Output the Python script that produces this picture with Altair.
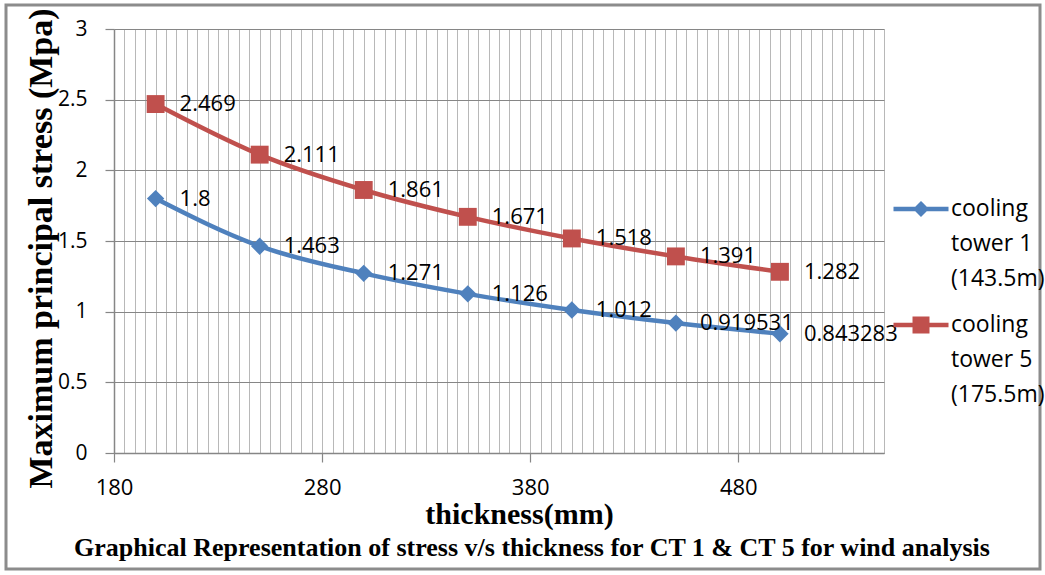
import altair as alt
import pandas as pd

# ---- data ----
thickness = [200, 250, 300, 350, 400, 450, 500]
ct1_stress = [1.8, 1.463, 1.271, 1.126, 1.012, 0.919531, 0.843283]
ct5_stress = [2.469, 2.111, 1.861, 1.671, 1.518, 1.391, 1.282]
ct1_labels = ["1.8", "1.463", "1.271", "1.126", "1.012", "0.919531", "0.843283"]
ct5_labels = ["2.469", "2.111", "1.861", "1.671", "1.518", "1.391", "1.282"]
series_names = ["cooling|tower 1|(143.5m)", "cooling|tower 5|(175.5m)"]
series_colors = ["#4F81BD", "#C0504D"]
x_label_values = [180, 280, 380, 480]
x_grid_values = list(range(180, 551, 5))
y_tick_values = [0, 0.5, 1, 1.5, 2, 2.5, 3]

rows = []
for t, v, lab in zip(thickness, ct1_stress, ct1_labels):
    rows.append({"thickness": t, "stress": v, "label": lab, "series": series_names[0]})
for t, v, lab in zip(thickness, ct5_stress, ct5_labels):
    rows.append({"thickness": t, "stress": v, "label": lab, "series": series_names[1]})
df = pd.DataFrame(rows)

major_test = "(datum.value - 180) % 100 == 0"

x_axis = alt.Axis(
    values=x_grid_values,
    grid=True, gridColor="#B8B8B8", gridWidth=1,
    labelExpr=f"{major_test} ? datum.label : ''",
    labelOverlap=False, labelFlush=False,
    tickOpacity={"condition": {"test": major_test, "value": 1}, "value": 0},
    tickSize=9, tickColor="#868686", tickWidth=1.2,
    domainColor="#868686", domainWidth=1.5,
    labelFont="Open Sans", labelFontSize=22, labelColor="black", labelPadding=15,
    title="thickness(mm)", titleFont="Liberation Serif", titleFontWeight="bold",
    titleFontSize=30, titleColor="black",
    titleX=405, titleY=70, titleAlign="center", titleBaseline="alphabetic",
)
y_axis = alt.Axis(
    values=y_tick_values, format="~g",
    grid=True, gridColor="#868686", gridWidth=1.2,
    tickSize=9, tickColor="#868686", tickWidth=1.2,
    domainColor="#868686", domainWidth=1.5,
    labelFont="Open Sans", labelFontSize=21, labelColor="black", labelPadding=18,
    title="Maximum principal stress (Mpa)", titleFont="Liberation Serif",
    titleFontWeight="bold", titleFontSize=34, titleColor="black",
    titleX=-73, titleY=219, titleAngle=270, titleAlign="center", titleBaseline="middle",
)

x_enc = alt.X("thickness:Q", scale=alt.Scale(domain=[180, 550], nice=False, zero=False), axis=x_axis)
y_enc = alt.Y("stress:Q", scale=alt.Scale(domain=[0, 3], nice=False), axis=y_axis)
color_scale = alt.Scale(domain=series_names, range=series_colors)

# legend symbols: a line with the series marker (marker drawn as nested outlines)
legend_paths = [
    "M-1,0H1M0,-0.175L0.175,0L0,0.175L-0.175,0ZM0,-0.058L0.058,0L0,0.058L-0.058,0Z",
    "M-1,0H1M-0.227,-0.227H0.227V0.227H-0.227ZM-0.136,-0.136H0.136V0.136H-0.136Z"
    "M-0.045,-0.045H0.045V0.045H-0.045Z",
]
leg = alt.Legend(
    title=None, orient="none", legendX=777, legendY=150, padding=0,
    labelExpr="split(datum.label, '|')", labelFont="Open Sans", labelFontSize=23,
    labelColor="black", labelLimit=0, labelOffset=0, rowPadding=4,
    symbolSize=3025, symbolStrokeWidth=4.5, symbolOpacity=1,
    symbolFillColor="transparent",
)
color_enc = alt.Color("series:N", scale=color_scale, legend=leg)

base = alt.Chart(df).encode(x=x_enc, y=y_enc)

legend_layer = base.mark_point(filled=False, size=3025, opacity=0, strokeWidth=4.5).encode(
    color=color_enc,
    shape=alt.Shape("series:N", scale=alt.Scale(domain=series_names, range=legend_paths), legend=leg),
)
lines = base.mark_line(strokeWidth=4.5, interpolate="monotone").encode(color=color_enc)
diamonds = base.transform_filter(alt.datum.series == series_names[0]).mark_point(
    shape="diamond", filled=True, size=300, opacity=1).encode(color=color_enc)
squares = base.transform_filter(alt.datum.series == series_names[1]).mark_point(
    shape="square", filled=True, size=320, opacity=1).encode(color=color_enc)
labels = base.mark_text(align="left", baseline="middle", dx=24, font="Open Sans",
                        fontSize=22, color="black").encode(text="label:N")

frame = alt.Chart(alt.Data(values=[{}])).mark_rect(
    fill=None, stroke="#8C8C8C", strokeWidth=3
).encode(x=alt.value(-108), x2=alt.value(926), y=alt.value(-24), y2=alt.value(540))

chart = alt.layer(legend_layer, lines, diamonds, squares, labels, frame).properties(
    width=770, height=424,
    padding={"left": 114, "top": 29, "right": 161, "bottom": 122},
    autosize=alt.AutoSizeParams(type="none"),
    title=alt.TitleParams(
        "Graphical Representation  of stress v/s thickness for CT 1 & CT 5 for wind analysis",
        orient="bottom", anchor="middle", frame="group", font="Liberation Serif",
        fontWeight="bold", fontSize=26, color="black", dx=33, offset=-15, baseline="alphabetic",
    ),
).configure_view(stroke=None).configure(
    background="white",
    style={"guide-label": {"lineHeight": 35}},
)

chart.save("out.html", embed_options={"renderer": "svg", "actions": False})
